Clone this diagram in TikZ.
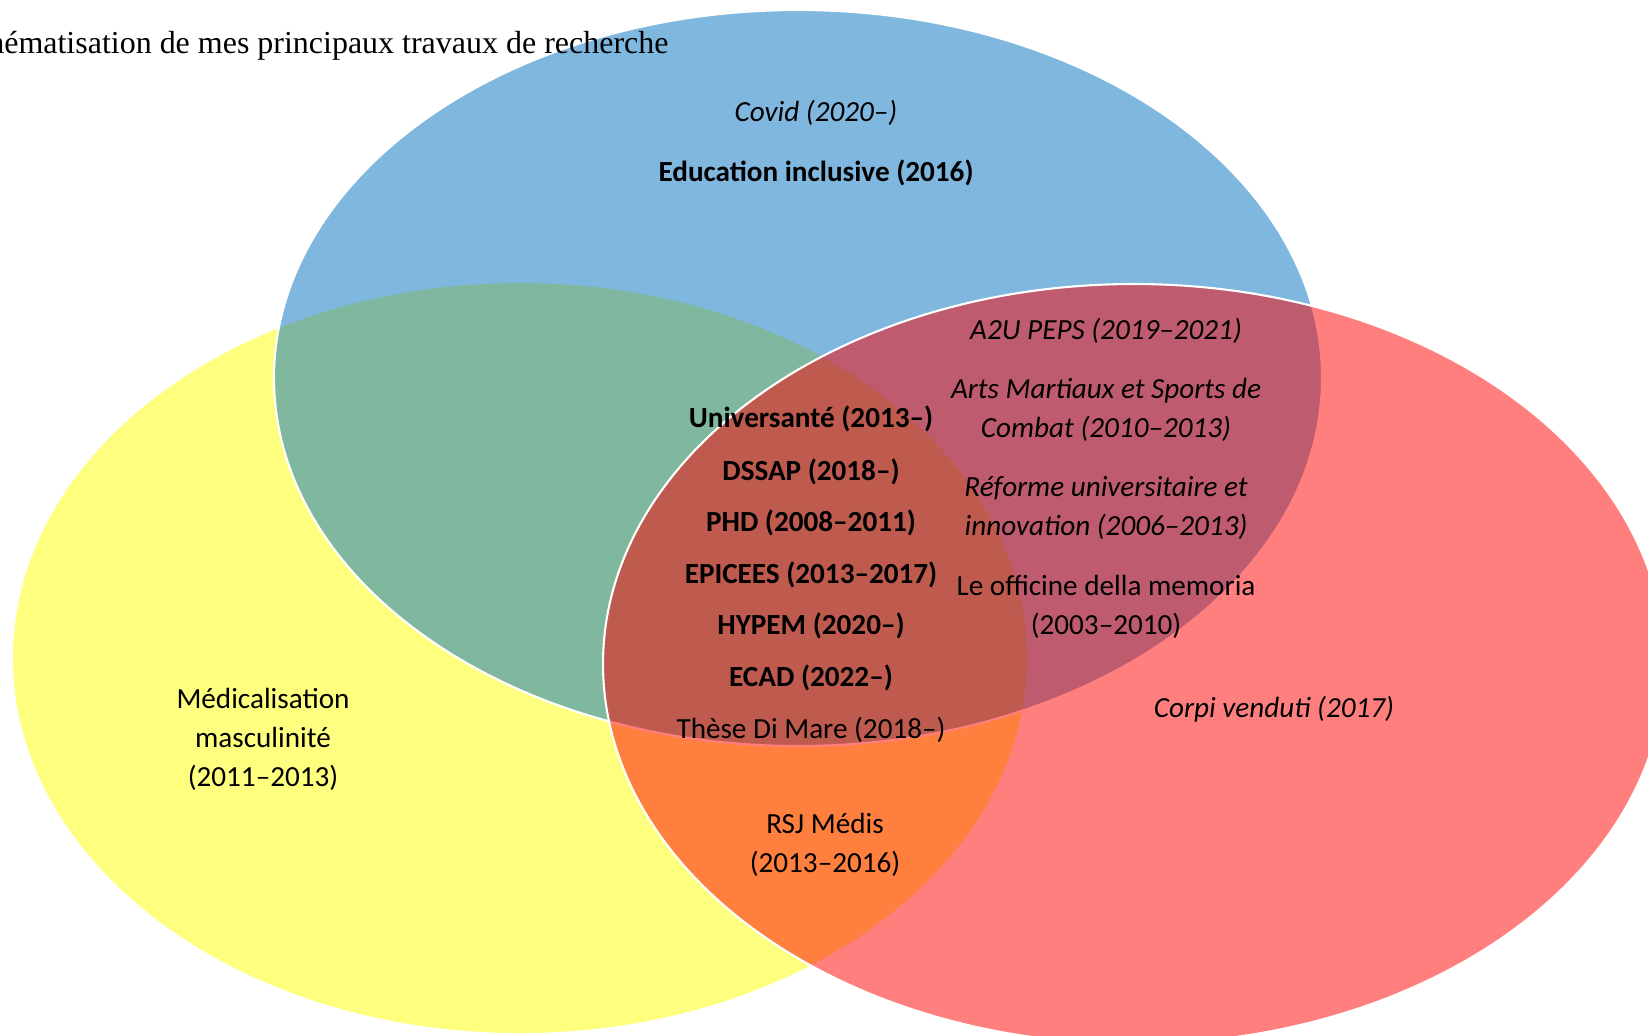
\documentclass[tikz,border=0pt]{standalone}
\usepackage{fontspec}
\setmainfont{Carlito}
\newfontfamily\titlefont{Liberation Serif}
\usepackage{tikz}
\usetikzlibrary{positioning}

\definecolor{vennyellow}{RGB}{255,255,0}
\definecolor{vennblue}{RGB}{0,112,192}
\definecolor{vennred}{RGB}{255,0,0}

\tikzset{
  txt/.style={font=\fontsize{16.6}{22.2}\selectfont, align=center, inner sep=0pt},
  txtb/.style={txt, font=\fontsize{16.6}{22.2}\selectfont\bfseries},
  txti/.style={txt, font=\fontsize{16.6}{22.2}\selectfont\itshape},
  venn/.style={fill opacity=0.5, draw=white, line width=1.2pt}
}

\begin{document}
\begin{tikzpicture}[x=0.02cm, y=-0.02cm]
\useasboundingbox (0,0) rectangle (1648,1035);
\clip (0,0) rectangle (1648,1035);

% the three sets
\fill [vennyellow, fill opacity=0.5] (520,658) ellipse [x radius=507, y radius=375];
\draw [venn, fill=vennblue] (798,378) ellipse [x radius=524, y radius=368];
\draw [venn, fill=vennred] (1134,664) ellipse [x radius=531, y radius=380];

\node [anchor=base west, inner sep=0pt, font=\titlefont\fontsize{18.2}{22}\selectfont] (title) at (-44,53) {Schématisation de mes principaux travaux de recherche};

% blue only
\node [txti] (covid) at (816,113) {Covid (2020–)};
\node [txtb] (educ) at (816,173) {Education inclusive (2016)};

% blue and red
\node [txti] (peps) at (1106,331) {A2U PEPS (2019–2021)};
\node [txti] (arts) at (1106,410) {Arts Martiaux et Sports de\\Combat (2010–2013)};
\node [txti] (reforme) at (1106,508) {Réforme universitaire et\\innovation (2006–2013)};
\node [txt] (officine) at (1106,607) {Le officine della memoria\\(2003–2010)};

% red only
\node [txti] (corpi) at (1274,709) {Corpi venduti (2017)};

% all three
\node [txtb] (univ) at (811,419) {Universanté (2013–)};
\node [txtb] (dssap) at (811,472) {DSSAP (2018–)};
\node [txtb] (phd) at (811,523) {PHD (2008–2011)};
\node [txtb] (epicees) at (811,575) {EPICEES (2013–2017)};
\node [txtb] (hypem) at (811,626) {HYPEM (2020–)};
\node [txtb] (ecad) at (811,678) {ECAD (2022–)};
\node [txt] (these) at (811,730) {Thèse Di Mare (2018–)};

% yellow and red
\node [txt] (rsj) at (825,845) {RSJ Médis\\(2013–2016)};

% yellow only
\node [txt] (medic) at (263,739) {Médicalisation\\masculinité\\(2011–2013)};
\end{tikzpicture}
\end{document}
